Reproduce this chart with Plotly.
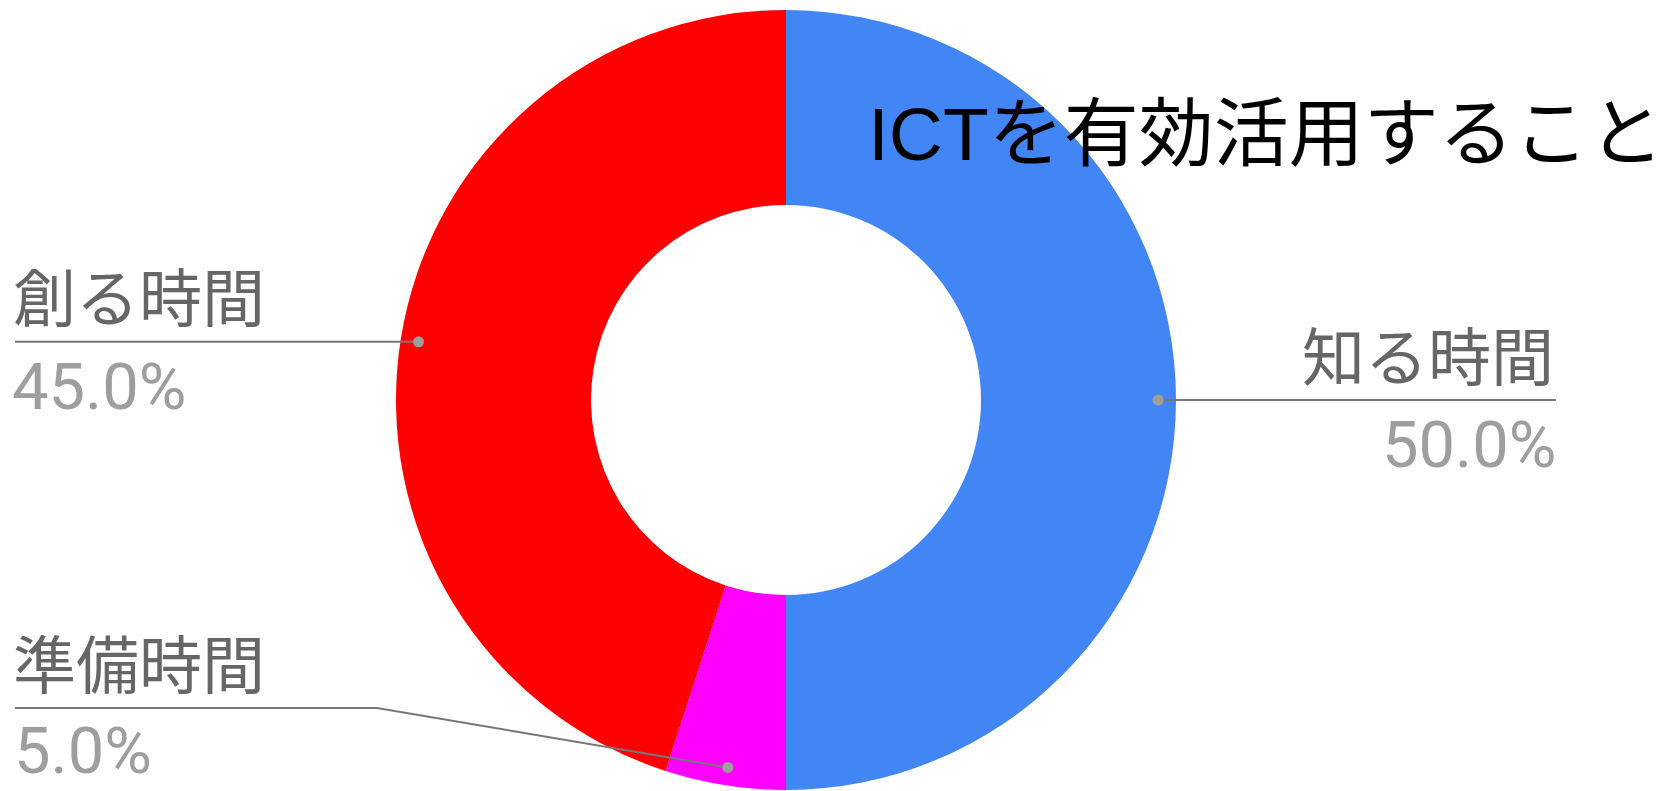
import math
import plotly.graph_objects as go

labels = ["知る時間", "準備時間", "創る時間"]
values = [50, 5, 45]
colors = ["#4285F4", "#FF00FF", "#FF0000"]
title_text = "ICTを有効活用すること"

W, H = 1670, 791
cx, cy, R = 786, 400, 390
hole = 0.5

fig = go.Figure(go.Pie(
    labels=labels, values=values, sort=False, direction="clockwise", rotation=0,
    hole=hole, marker=dict(colors=colors, line=dict(width=0)),
    textinfo="none", hoverinfo="label+percent", showlegend=False,
    domain=dict(x=[(cx - R) / W, (cx + R) / W], y=[(H - cy - R) / H, (H - cy + R) / H]),
))


def px(x, y):
    return x / W, 1 - y / H


total = sum(values)
pcts = [v / total * 100 for v in values]

# dot positions on each slice, from the mid angle of the slice
dots = []
acc = 0
for v in values:
    mid = (acc + v / 2) / total * 2 * math.pi
    acc += v
    dots.append((cx + 0.954 * R * math.sin(mid), cy - 0.954 * R * math.cos(mid)))

line_col = "#777777"
dot_col = "#9e9e9e"
lab_font = dict(family="Noto Sans CJK JP", size=63, color="#666666")
pct_font = dict(family="Roboto, Noto Sans CJK JP", size=65, color="#9e9e9e")
up, down = 48, 45

shapes = []
annotations = []

# 知る時間 (right)
d = dots[0]
shapes.append(dict(type="line", xref="paper", yref="paper",
                   x0=px(*d)[0], y0=px(*d)[1], x1=px(1556, d[1])[0], y1=px(1556, d[1])[1],
                   line=dict(color=line_col, width=2)))
annotations.append(dict(text=labels[0], x=px(1556, 0)[0], y=px(0, d[1] - up)[1],
                        xanchor="right", yanchor="middle", font=lab_font))
annotations.append(dict(text=f"{pcts[0]:.1f}%", x=px(1558, 0)[0], y=px(0, d[1] + down)[1],
                        xanchor="right", yanchor="middle", font=pct_font))

# 創る時間 (left)
d = dots[2]
shapes.append(dict(type="line", xref="paper", yref="paper",
                   x0=px(15, d[1])[0], y0=px(15, d[1])[1], x1=px(*d)[0], y1=px(*d)[1],
                   line=dict(color=line_col, width=2)))
annotations.append(dict(text=labels[2], x=px(11, 0)[0], y=px(0, d[1] - up)[1],
                        xanchor="left", yanchor="middle", font=lab_font))
annotations.append(dict(text=f"{pcts[2]:.1f}%", x=px(10, 0)[0], y=px(0, d[1] + down)[1],
                        xanchor="left", yanchor="middle", font=pct_font))

# 準備時間 (left bottom, bent leader)
d = dots[1]
ly = 708
shapes.append(dict(type="path", xref="paper", yref="paper",
                   path="M {} {} L {} {} L {} {}".format(
                       *px(15, ly), *px(377, ly), *px(*d)),
                   line=dict(color=line_col, width=2)))
annotations.append(dict(text=labels[1], x=px(11, 0)[0], y=px(0, ly - up)[1],
                        xanchor="left", yanchor="middle", font=lab_font))
annotations.append(dict(text=f"{pcts[1]:.1f}%", x=px(12, 0)[0], y=px(0, 751)[1],
                        xanchor="left", yanchor="middle", font=pct_font))

for d in dots:
    r = 5.5
    shapes.append(dict(type="circle", xref="paper", yref="paper",
                       x0=(d[0] - r) / W, x1=(d[0] + r) / W,
                       y0=1 - (d[1] + r) / H, y1=1 - (d[1] - r) / H,
                       fillcolor=dot_col, line=dict(width=0)))

annotations.append(dict(text=title_text, x=px(1266, 0)[0], y=px(0, 134)[1],
                        xanchor="center", yanchor="middle",
                        font=dict(family="Liberation Sans, Noto Sans CJK JP", size=75, color="#000000")))

for a in annotations:
    a.update(xref="paper", yref="paper", showarrow=False)

fig.update_layout(width=W, height=H, margin=dict(l=0, r=0, t=0, b=0),
                  paper_bgcolor="white", plot_bgcolor="white",
                  shapes=shapes, annotations=annotations)

fig.write_html("out.html", config={"displayModeBar": False},
               post_script="document.body.style.margin='0px';")
